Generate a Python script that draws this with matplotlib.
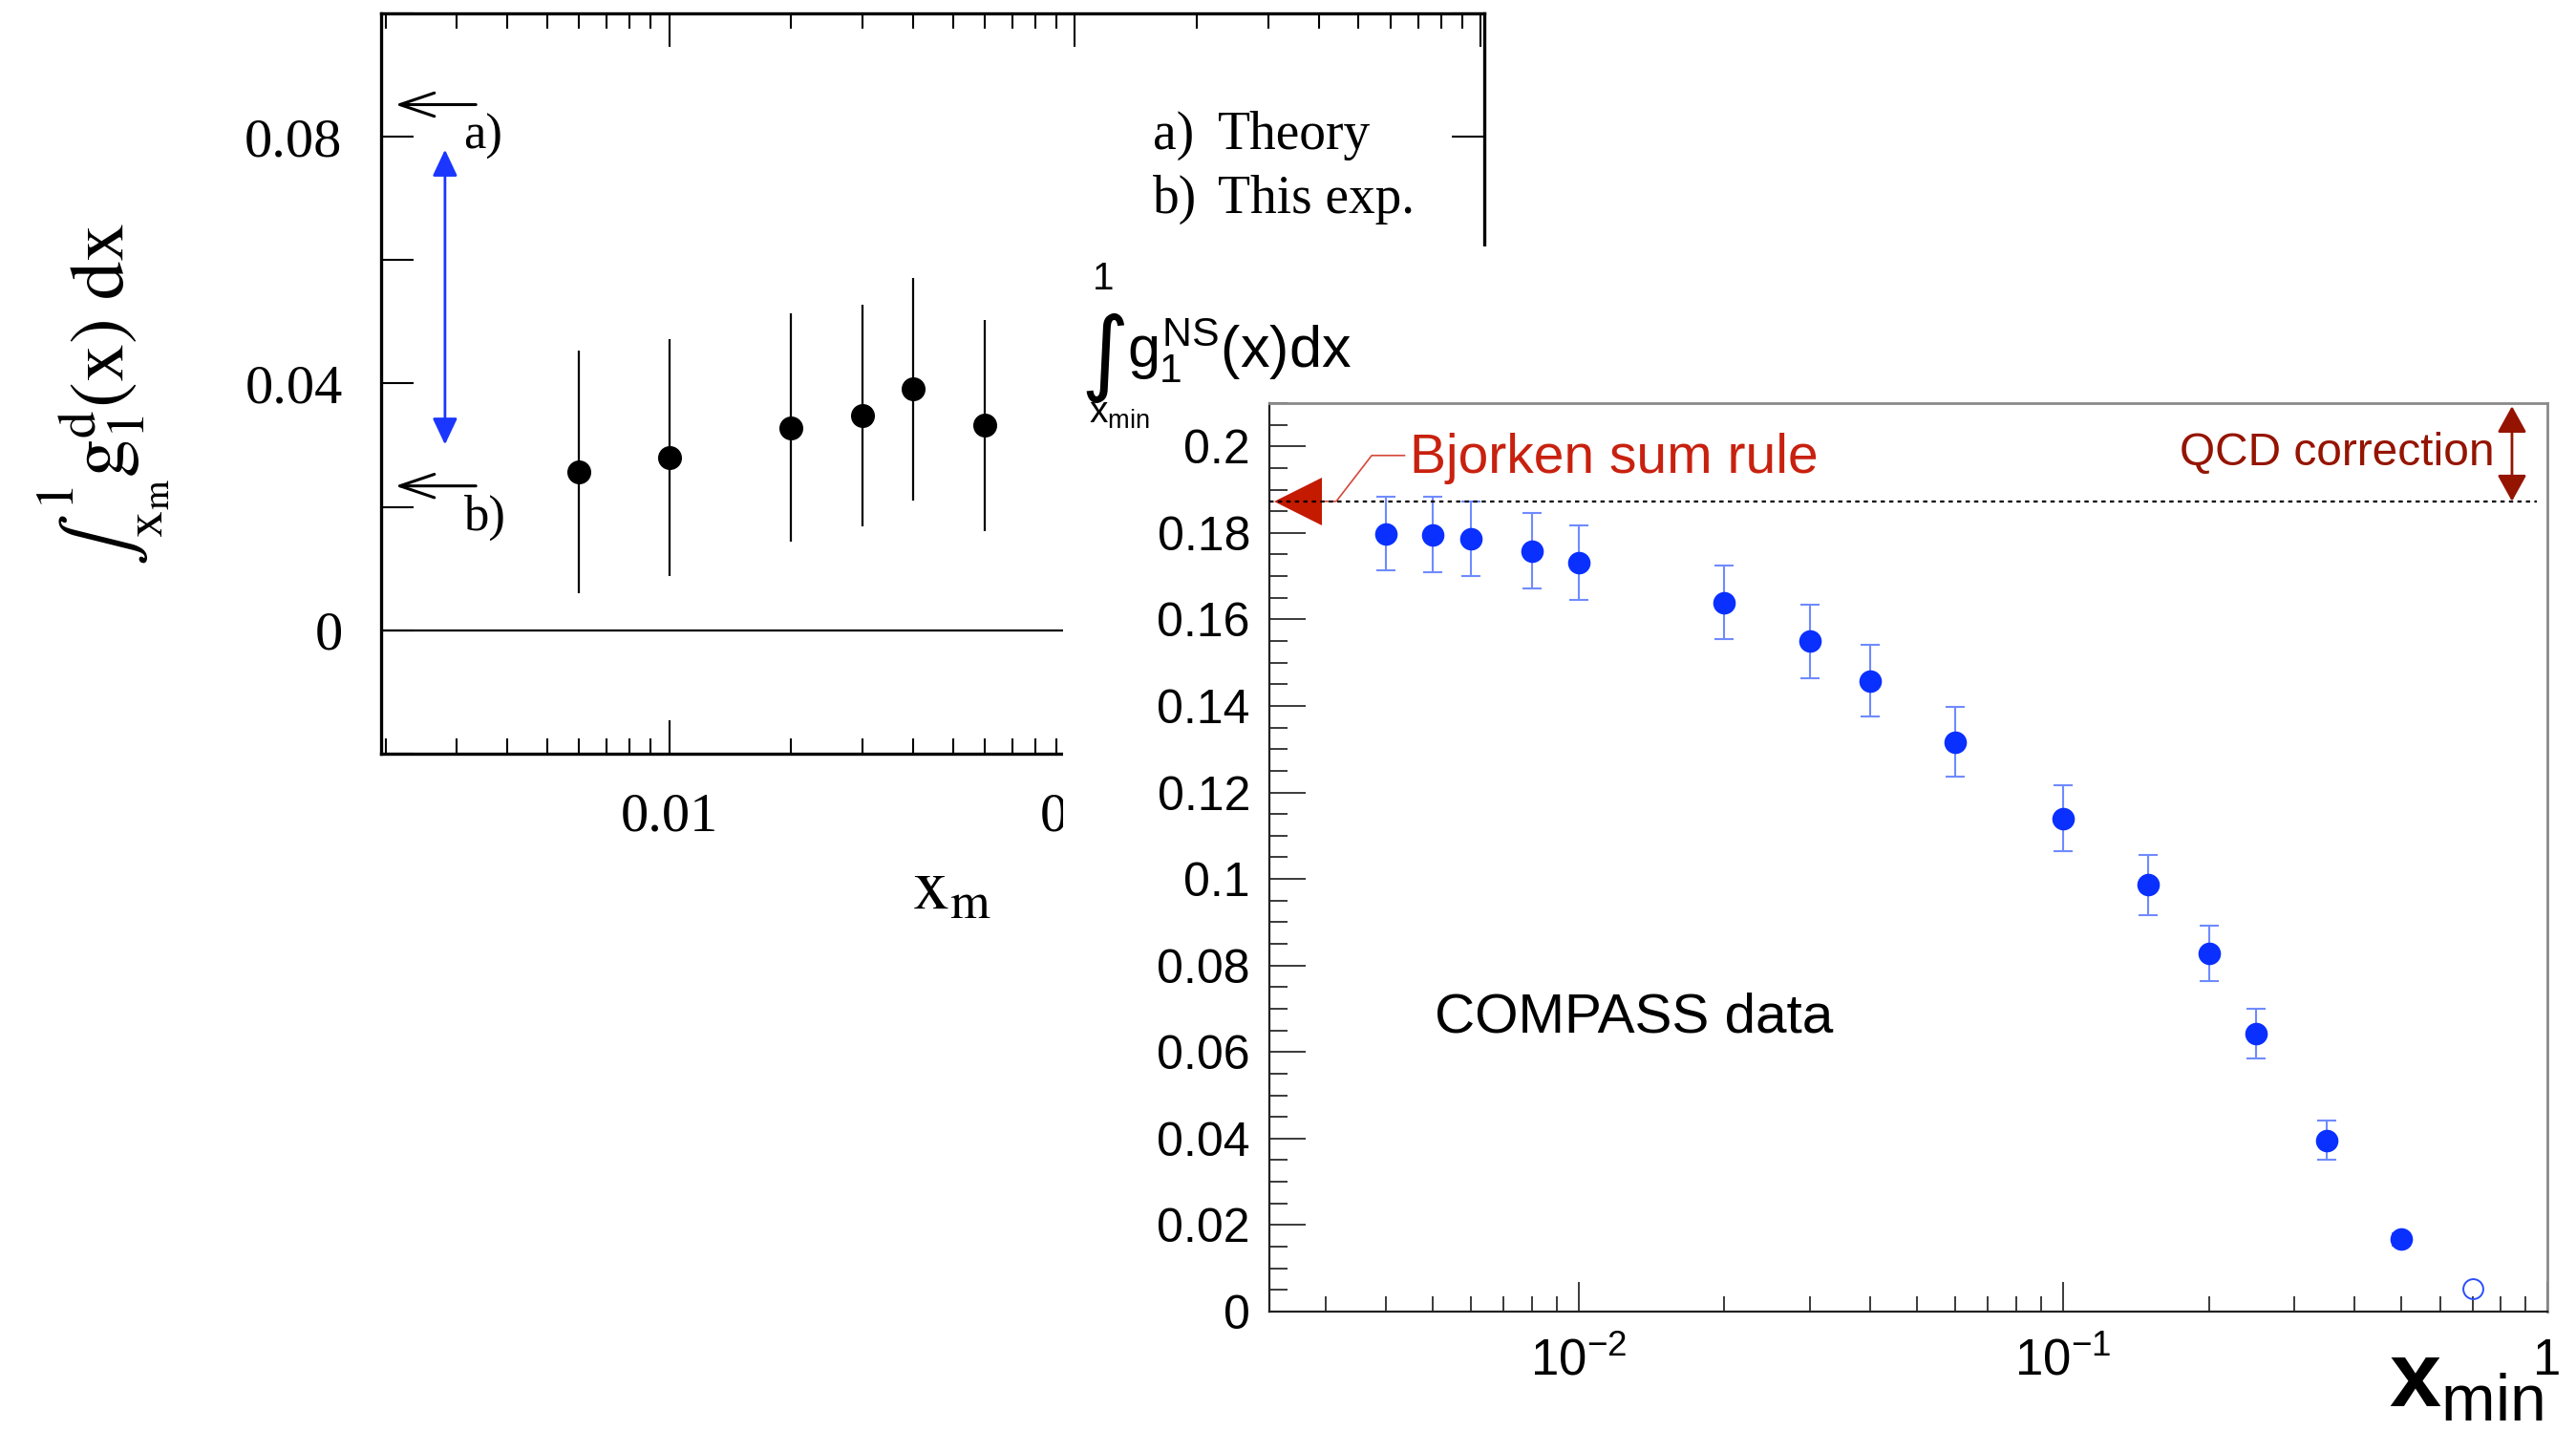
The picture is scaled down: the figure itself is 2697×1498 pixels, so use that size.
import math

import matplotlib
matplotlib.use("Agg")
import matplotlib.pyplot as plt
from matplotlib.patches import Rectangle
from matplotlib.ticker import FixedLocator, FuncFormatter, LogLocator, MultipleLocator, NullFormatter

plt.rcParams["mathtext.fontset"] = "custom"
plt.rcParams["mathtext.rm"] = "Liberation Sans"
plt.rcParams["mathtext.it"] = "Liberation Sans"
plt.rcParams["mathtext.bf"] = "Liberation Sans:bold"

# deuteron first-moment integral from x_m to 1 (background panel)
xm_d = [0.006, 0.01, 0.02, 0.03, 0.04, 0.06]
int_g1d = [0.0257, 0.0280, 0.0328, 0.0348, 0.0391, 0.0332]
int_g1d_err = [0.0197, 0.0192, 0.0185, 0.0180, 0.0180, 0.0171]
theory_a = 0.0852
exp_b = 0.0234
gap_lo, gap_hi = 0.0301, 0.0779

# non-singlet integral from x_min to 1 (front panel)
xmin_ns = [0.004, 0.005, 0.006, 0.008, 0.01, 0.02, 0.03, 0.04, 0.06,
           0.1, 0.15, 0.2, 0.25, 0.35, 0.5]
int_ns = [0.1798, 0.1796, 0.1787, 0.1758, 0.1731, 0.1639, 0.1550, 0.1458,
          0.1317, 0.1140, 0.0986, 0.0828, 0.0642, 0.0396, 0.0167]
int_ns_err = [0.0085, 0.0088, 0.0086, 0.0087, 0.0087, 0.0085, 0.0085, 0.0083,
              0.0081, 0.0076, 0.0069, 0.0065, 0.0058, 0.0045, 0.0015]
xmin_open = [0.7]
int_open = [0.0053]
bjorken = 0.1873
qcd_top = 0.2093

SERIF = "Liberation Serif"
SANS = "Liberation Sans"
RED = "#c8210f"
DARKRED = "#951400"

fig = plt.figure(figsize=(26.97, 14.98), dpi=100)

# ---------------- background panel ----------------
ax1 = fig.add_axes([0.1479, 0.4733, 0.4283, 0.5174])
ax1.set_zorder(1)
ax1.set_xscale("log")
ax1.set_xlim(0.00195, 1.02)
ax1.set_ylim(-0.02, 0.1)

ax1.errorbar(xm_d, int_g1d, yerr=int_g1d_err, fmt="o", color="black",
             ms=17, elinewidth=1.6, capsize=0)
ax1.axhline(0, color="black", lw=1.6)

for val, lab, ylab in [(theory_a, "a)", 0.0800), (exp_b, "b)", 0.0183)]:
    ax1.annotate("", xy=(0.013, val), xytext=(0.086, val),
                 xycoords=("axes fraction", "data"),
                 arrowprops=dict(arrowstyle="->,head_length=0.65,head_width=0.22",
                                 color="black", lw=2.2, mutation_scale=40,
                                 shrinkA=0, shrinkB=0))
    ax1.text(0.0745, ylab, lab, transform=ax1.get_yaxis_transform(),
             ha="left", va="center", fontsize=38, family=SERIF)

ax1.annotate("", xy=(0.058, gap_hi), xytext=(0.058, gap_lo),
             xycoords=("axes fraction", "data"),
             arrowprops=dict(arrowstyle="<|-|>,head_length=0.85,head_width=0.4",
                             color="#1a36ff", lw=2, mutation_scale=20,
                             shrinkA=0, shrinkB=0))

for yy, key, desc in [(0.8168, "a)", "Theory"), (0.7303, "b)", "This exp.")]:
    ax1.text(0.6996, yy, key, transform=ax1.transAxes, fontsize=40,
             family=SERIF, va="baseline")
    ax1.text(0.7584, yy, desc, transform=ax1.transAxes, fontsize=40,
             family=SERIF, va="baseline")

ax1.yaxis.set_major_locator(FixedLocator([-0.02, 0, 0.02, 0.04, 0.06, 0.08, 0.1]))
ax1.yaxis.set_major_formatter(FuncFormatter(
    lambda v, _: {0: "0", 0.04: "0.04", 0.08: "0.08"}.get(round(v, 2), "")))
ax1.xaxis.set_major_locator(LogLocator(base=10))
ax1.xaxis.set_minor_locator(LogLocator(base=10, subs=range(2, 10)))
ax1.xaxis.set_minor_formatter(NullFormatter())
ax1.xaxis.set_major_formatter(FuncFormatter(lambda v, _: f"{v:g}"))
ax1.tick_params(axis="both", which="both", direction="in", top=True, right=True,
                width=1.5, color="black", labelsize=42, labelfontfamily=SERIF)
ax1.tick_params(axis="x", which="major", length=25, pad=29)
ax1.tick_params(axis="x", which="minor", length=11.5)
ax1.tick_params(axis="y", which="major", length=24.5, pad=29)
for sp in ax1.spines.values():
    sp.set_linewidth(2.4)

fig.text(0.0404, 0.7250, r"$\int_{\mathrm{x_m}}^{1}\mathrm{g_1^d(x)\ dx}$",
         rotation=90, ha="center", va="center", fontsize=58,
         math_fontfamily="stix")
fig.text(0.3693, 0.3792, r"$\mathrm{x_m}$", ha="center", va="center",
         fontsize=55, math_fontfamily="stix")

# white sheet that the front panel sits on
fig.add_artist(Rectangle((0.4127, 0), 0.5873, 0.8278, transform=fig.transFigure,
                         facecolor="white", edgecolor="none", zorder=2))

# ---------------- front panel ----------------
ax2 = fig.add_axes([0.4928, 0.0835, 0.4961, 0.6348])
ax2.set_zorder(3)
ax2.set_xscale("log")
ax2.set_xlim(0.0023, 1.0)
ax2.set_ylim(0, 0.21)

ax2.errorbar(xmin_ns, int_ns, yerr=int_ns_err, fmt="none", ecolor="#6f8bff",
             elinewidth=1.5, capsize=7, capthick=1.5, zorder=3)
ax2.plot(xmin_ns, int_ns, "o", color="#0a30ff", ms=17, mew=0, zorder=4)
ax2.plot(xmin_open, int_open, "o", mfc="none", mec="#2a4dff", ms=15, mew=1.4,
         zorder=4)

# Bjorken sum rule marker and leader
ax2.plot([0.00292, 0.00316, 0.00374, 0.00437],
         [bjorken, bjorken, 0.1979, 0.1979], color="#d6473a", lw=1.2, zorder=5)
ax2.plot([0.002636], [bjorken], marker="<", ms=36, color="#c41a00", mew=0,
         clip_on=False, zorder=5)
ax2.axhline(bjorken, xmin=0, xmax=0.992, color="black", ls=(0, (2, 2)), lw=1.6,
            zorder=6)
ax2.text(0.00449, 0.1939, "Bjorken sum rule", color=RED, fontsize=41,
         family=SANS, ha="left", va="baseline")

ax2.annotate("", xy=(0.845, qcd_top), xytext=(0.845, bjorken),
             arrowprops=dict(arrowstyle="<|-|>,head_length=0.85,head_width=0.47",
                             color=DARKRED, lw=2, mutation_scale=20,
                             shrinkA=0, shrinkB=0))
ax2.text(0.7784, 0.1956, "QCD correction", color=DARKRED, fontsize=34.5,
         family=SANS, ha="right", va="baseline")

ax2.text(0.01302, 0.0645, "COMPASS data", fontsize=42, family=SANS,
         ha="center", va="baseline")

ax2.yaxis.set_major_locator(MultipleLocator(0.02))
ax2.yaxis.set_minor_locator(MultipleLocator(0.005))
ax2.yaxis.set_major_formatter(FuncFormatter(lambda v, _: f"{round(v, 3):g}"))
ax2.xaxis.set_major_locator(LogLocator(base=10))
ax2.xaxis.set_minor_locator(LogLocator(base=10, subs=range(2, 10)))
ax2.xaxis.set_minor_formatter(NullFormatter())
ax2.xaxis.set_major_formatter(FuncFormatter(
    lambda v, _: {-2: r"$10^{-2}$", -1: r"$10^{-1}$", 0: "1"}.get(round(math.log10(v)), "")))
ax2.tick_params(axis="both", which="both", direction="in", color="#3a3a3a",
                width=1.4, top=False, right=False, labelfontfamily=SANS)
ax2.tick_params(axis="y", which="major", length=27, pad=14.5, labelsize=36)
ax2.tick_params(axis="y", which="minor", length=13.5)
ax2.tick_params(axis="x", which="major", length=22, pad=19.5, labelsize=38)
ax2.tick_params(axis="x", which="minor", length=11.5)
for side in ("left", "bottom"):
    ax2.spines[side].set_color("#222222")
    ax2.spines[side].set_linewidth(1.6)
for side in ("top", "right"):
    ax2.spines[side].set_color("#8a8a8a")
    ax2.spines[side].set_linewidth(2.0)

# integral label with stacked limits
fig.text(0.4283, 0.8051, "1", fontsize=29, family=SANS, ha="center",
         va="center", zorder=4)
fig.text(0.4290, 0.7497, "\u222b", fontsize=70, family="DejaVu Sans",
         ha="center", va="center", zorder=4)
fig.text(0.4375, 0.7430, r"$g_1^{NS}(x)dx$", fontsize=44, ha="left",
         va="baseline", zorder=4)
fig.text(0.4227, 0.7043, r"$x_{min}$", fontsize=28, ha="left",
         va="baseline", zorder=4)
fig.text(0.9874, 0.0167, r"$\mathbf{x}_{\mathrm{min}}$", fontsize=70,
         ha="right", va="baseline", zorder=4)

fig.savefig("out.png", dpi=100)
